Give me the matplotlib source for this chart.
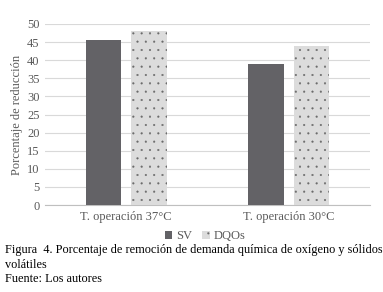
import matplotlib
matplotlib.use('Agg')
import matplotlib.pyplot as plt
import numpy as np

categorias = ["T. operación 37°C", "T. operación 30°C"]
sv = [45.5, 39]
dqos = [48, 44]
yticks = [0, 5, 10, 15, 20, 25, 30, 35, 40, 45, 50]

plt.rcParams['font.family'] = ['Liberation Serif', 'DejaVu Serif']
plt.rcParams['hatch.linewidth'] = 0.3

fig = plt.figure(figsize=(3.83, 2.92), dpi=100)
ax = fig.add_axes([45/383, 1 - 205/292, 325/383, 181/292])

x = np.arange(len(categorias))
w = 0.22
ax.bar(x - 0.14, sv, w, color='#636266', label='SV', zorder=3)
ax.bar(x + 0.14, dqos, w, facecolor='#dcdcdc', hatch='..', edgecolor='#6a6a6a',
       linewidth=0, label='DQOs', zorder=3)

ax.set_xlim(-0.5, 1.5)
ax.set_ylim(0, 50)
ax.set_yticks(yticks)
ax.set_xticks(x)
ax.set_xticklabels(categorias)
ax.tick_params(axis='both', length=0, labelsize=9, colors='#595959', pad=4)
ax.grid(axis='y', color='#d9d9d9', linewidth=0.8, zorder=0)
for s in ['top', 'right', 'left']:
    ax.spines[s].set_visible(False)
ax.spines['bottom'].set_color('#bfbfbf')
ax.set_ylabel("Porcentaje de reducción", fontsize=9, color='#595959', labelpad=3)

fig.legend(loc='center', bbox_to_anchor=(205/383, 1 - 236/292), ncol=2, frameon=False,
           fontsize=9, handlelength=0.6, handleheight=0.6, handletextpad=0.3,
           columnspacing=0.8, labelcolor='#595959')

cap = dict(fontsize=8.8, va='center', ha='left')
fig.text(5/383, 1 - 250/292, "Figura  4. Porcentaje de remoción de demanda química de oxígeno y sólidos", **cap)
fig.text(5/383, 1 - 265/292, "volátiles", **cap)
fig.text(5/383, 1 - 279/292, "Fuente: Los autores", **cap)

fig.savefig("out.png", dpi=100)
